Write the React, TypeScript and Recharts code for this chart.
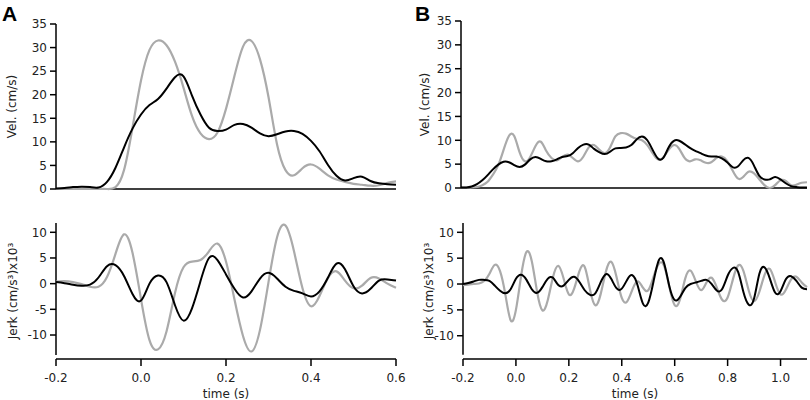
import React from "react";
import { LineChart, Line, XAxis, YAxis, ReferenceLine } from "recharts";

// time grid (s)
const timeA = [
  -0.2, -0.18, -0.16, -0.14, -0.12, -0.1, -0.08, -0.06, -0.04, -0.02, 0,
  0.02, 0.04, 0.06, 0.08, 0.1, 0.12, 0.14, 0.16, 0.18, 0.2,
  0.22, 0.24, 0.26, 0.28, 0.3, 0.32, 0.34, 0.36, 0.38, 0.4,
  0.42, 0.44, 0.46, 0.48, 0.5, 0.52, 0.54, 0.56, 0.58, 0.6,
];
const timeB = [
  -0.2, -0.18, -0.16, -0.14, -0.12, -0.1, -0.08, -0.06, -0.04, -0.02, 0,
  0.02, 0.04, 0.06, 0.08, 0.1, 0.12, 0.14, 0.16, 0.18, 0.2,
  0.22, 0.24, 0.26, 0.28, 0.3, 0.32, 0.34, 0.36, 0.38, 0.4,
  0.42, 0.44, 0.46, 0.48, 0.5, 0.52, 0.54, 0.56, 0.58, 0.6,
  0.62, 0.64, 0.66, 0.68, 0.7, 0.72, 0.74, 0.76, 0.78, 0.8,
  0.82, 0.84, 0.86, 0.88, 0.9, 0.92, 0.94, 0.96, 0.98, 1.0,
  1.02, 1.04, 1.06, 1.08, 1.1,
];

// panel A, velocity (cm/s)
const velBlackA = [
  0.1, 0.2, 0.4, 0.5, 0.4, 0.3, 1.5, 4.5, 8.8, 12.8, 15.8,
  17.8, 19.1, 21.3, 23.7, 23.9, 19.8, 15.8, 13.0, 12.3, 12.6,
  13.6, 13.8, 13.0, 11.8, 11.2, 11.6, 12.2, 12.3, 11.7, 10.2,
  8.0, 5.1, 2.8, 1.8, 2.3, 2.6, 1.7, 1.2, 1.0, 0.9,
];
const velGrayA = [
  0, 0, 0, 0, 0, 0, 0, 0.4, 4.0, 13.0, 23.0,
  29.5, 31.5, 30.5, 27.0, 21.5, 15.5, 11.8, 10.6, 12.0, 17.0,
  24.0, 30.2, 31.4, 27.5, 19.5, 9.5, 4.0, 2.9, 4.4, 5.2,
  4.3, 2.9, 2.0, 1.5, 1.1, 0.9, 0.7, 0.8, 1.3, 1.6,
];

// panel A, jerk (cm/s^3 x10^3)
const jerkBlackA = [
  0.3, 0.1, -0.2, -0.4, -0.2, 1.2, 3.4, 3.6, 1.5, -2.0, -3.3,
  0.0, 1.6, 0.3, -4.2, -7.2, -4.8, 0.5, 5.0, 4.6, 1.8,
  -1.0, -2.7, -1.5, 1.0, 2.1, 1.0, -0.6, -1.4, -1.9, -2.5,
  -1.5, 1.2, 3.9, 2.8, -0.5, -1.9, -1.0, 0.6, 0.8, 0.6,
];
const jerkGrayA = [
  0.4, 0.5, 0.3, -0.1, -0.6, -0.6, 1.3, 5.8, 9.6, 6.0, -3.0,
  -11.0, -12.8, -9.3, -1.8, 3.2, 4.3, 4.6, 6.3, 7.8, 4.3,
  -3.1, -10.2, -13.2, -9.0, 0.3, 9.0, 11.3, 6.3, -0.9, -4.4,
  -2.4, 1.1, 2.4, 0.6, -0.9, -0.4, 1.1, 1.0, 0.0, -0.8,
];

// panel B, velocity (cm/s)
const velBlackB = [
  0.1, 0.1, 0.3, 0.8, 1.6, 2.7, 3.9, 4.9, 5.5, 5.4, 4.8,
  4.4, 4.9, 6.0, 6.5, 6.1, 5.6, 5.6, 6.0, 6.5, 6.7,
  7.3, 8.4, 9.1, 9.1, 8.2, 7.5, 7.1, 7.6, 8.3, 8.4,
  8.5, 9.0, 10.2, 10.8, 10.0, 8.0, 6.2, 6.3, 8.5, 9.9,
  9.9, 9.2, 8.4, 7.8, 7.3, 6.8, 6.6, 6.6, 6.2, 5.4,
  4.4, 4.5, 5.8, 6.3, 4.8, 2.6, 1.8, 1.8, 2.3, 1.8,
  1.0, 0.4, 0.2, 0.1, 0.1,
];
const velGrayB = [
  0.1, 0.1, 0.1, 0.2, 0.6, 1.3, 2.8, 4.8, 8.0, 10.9, 10.9,
  7.5, 5.6, 6.5, 8.8, 9.7, 7.8, 6.3, 5.8, 6.5, 7.0,
  6.3, 5.6, 6.6, 8.5, 9.0, 8.0, 7.3, 8.5, 10.8, 11.5,
  11.4, 10.8, 10.3, 10.0, 9.0, 7.3, 6.0, 6.4, 8.0, 9.0,
  8.2, 6.3, 5.6, 6.0, 5.8, 5.3, 5.4, 6.3, 6.6, 5.7,
  3.7, 2.0, 2.3, 3.4, 3.1, 1.9, 0.6, 0.0, 0.6, 1.6,
  1.5, 0.6, 0.7, 1.1, 1.2,
];

// panel B, jerk (cm/s^3 x10^3)
const jerkBlackB = [
  0.0, 0.2, 0.5, 0.8, 0.8, 0.6, -0.3, -1.3, -1.8, -1.0, 1.0,
  1.8, 0.8, -1.0, -1.7, -0.6, 1.0, 1.2, -0.2, -0.3, 0.8,
  1.4, 0.4, -1.2, -2.1, -1.8, 0.3, 1.9, 1.0, -0.8, -0.9,
  0.8, 1.7, -0.3, -3.8, -3.6, 0.5, 4.6, 4.0, -0.5, -3.1,
  -2.5, -0.8, 0.0, 0.3, 0.6, 0.8, 0.0, -1.3, -0.9, 1.6,
  3.1, 2.3, -1.6, -4.0, -2.8, 2.0, 3.2, 1.0, -1.7, -1.4,
  0.9, 1.5, 0.6, -0.7, -1.0,
];
const jerkGrayB = [
  -0.2, -0.1, 0.0, 0.1, 0.6, 2.0, 3.7, 2.5, -2.0, -7.0, -5.0,
  1.7, 6.2, 4.4, -1.5, -5.1, -3.2, 1.3, 3.5, 1.1, -2.0,
  -0.9, 2.5, 3.3, -1.1, -4.1, -2.0, 2.4, 4.3, 1.4, -2.7,
  -3.4, -1.1, 0.5, -0.7, -1.2, 1.4, 3.9, 3.5, -0.6, -4.1,
  -3.0, 1.1, 2.6, 0.5, -1.2, 0.3, 1.2, -0.8, -3.1, -2.6,
  0.9, 3.6, 2.5, -1.3, -3.3, -1.5, 1.8, 2.9, 0.3, -2.0,
  -1.1, 0.9, 1.4, 0.3, -0.6,
];

const ticksA = [-0.2, 0, 0.2, 0.4, 0.6];
const ticksB = [-0.2, 0, 0.2, 0.4, 0.6, 0.8, 1.0];
const velTicks = [0, 5, 10, 15, 20, 25, 30, 35];
const jerkTicks = [-10, -5, 0, 5, 10];

const TEXT = "#222";
const tickStyle = { fontSize: 12, fill: TEXT };

type Row = { t: number; black: number; gray: number };

const toRows = (t: number[], black: number[], gray: number[]): Row[] =>
  t.map((x, i) => ({ t: x, black: black[i], gray: gray[i] }));

type VelProps = {
  rows: Row[];
  xDomain: [number, number];
  width: number;
  right: number;
  yWidth: number;
  top: number;
  bottom: number;
  labelOffset: number;
};

const VelChart = ({ rows, xDomain, width, right, yWidth, top, bottom, labelOffset }: VelProps) => (
  <LineChart width={width} height={200} data={rows} margin={{ top, right, bottom, left: 0 }}>
    <XAxis dataKey="t" type="number" domain={xDomain} hide />
    <YAxis
      type="number"
      domain={[0, 35]}
      ticks={velTicks}
      interval={0}
      width={yWidth}
      stroke="#000"
      strokeWidth={1.5}
      tickSize={6}
      tickMargin={3}
      tick={tickStyle}
      label={{ value: "Vel. (cm/s)", angle: -90, position: "insideLeft", offset: labelOffset, fill: TEXT, fontSize: 12, style: { textAnchor: "middle" } }}
    />
    <ReferenceLine y={0} stroke="#000" strokeWidth={1.5} />
    <Line dataKey="gray" type="natural" stroke="#aaaaaa" strokeWidth={2.2} dot={false} isAnimationActive={false} />
    <Line dataKey="black" type="natural" stroke="#000" strokeWidth={2} dot={false} isAnimationActive={false} />
  </LineChart>
);

type JerkProps = {
  rows: Row[];
  xDomain: [number, number];
  xTicks: number[];
  yDomain: [number, number];
  axisBottom: number;
  width: number;
  right: number;
  yWidth: number;
  labelOffset: number;
};

const JerkChart = ({ rows, xDomain, xTicks, yDomain, axisBottom, width, right, yWidth, labelOffset }: JerkProps) => (
  <LineChart width={width} height={185} data={rows} margin={{ top: 8, right, bottom: 0, left: 0 }}>
    <XAxis
      dataKey="t"
      type="number"
      domain={xDomain}
      ticks={xTicks}
      interval={0}
      tickFormatter={(v: number) => v.toFixed(1)}
      stroke="#000"
      strokeWidth={1.5}
      tickSize={7}
      tickMargin={7}
      tick={tickStyle}
      height={41}
      label={{ value: "time (s)", position: "insideBottom", offset: 2, fill: TEXT, fontSize: 12 }}
    />
    <YAxis
      type="number"
      domain={yDomain}
      ticks={jerkTicks}
      interval={0}
      width={yWidth}
      axisLine={false}
      stroke="#000"
      strokeWidth={1.5}
      tickSize={6}
      tickMargin={3}
      tick={tickStyle}
      label={{ value: "Jerk (cm/s³)x10³", angle: -90, position: "insideLeft", offset: labelOffset, fill: TEXT, fontSize: 12, style: { textAnchor: "middle" } }}
    />
    <ReferenceLine segment={[{ x: xDomain[0], y: axisBottom }, { x: xDomain[0], y: yDomain[1] }]} stroke="#000" strokeWidth={1.5} />
    <Line dataKey="gray" type="natural" stroke="#aaaaaa" strokeWidth={2.2} dot={false} isAnimationActive={false} />
    <Line dataKey="black" type="natural" stroke="#000" strokeWidth={2} dot={false} isAnimationActive={false} />
  </LineChart>
);

const letterStyle: React.CSSProperties = {
  position: "absolute",
  top: 3,
  fontFamily: "'Liberation Sans', Arial, sans-serif",
  fontWeight: "bold",
  fontSize: 21,
  lineHeight: "21px",
  color: "#000",
};

export default function App() {
  const velA = toRows(timeA, velBlackA, velGrayA);
  const jerkA = toRows(timeA, jerkBlackA, jerkGrayA);
  const velB = toRows(timeB, velBlackB, velGrayB);
  const jerkB = toRows(timeB, jerkBlackB, jerkGrayB);

  return (
    <div
      style={{
        position: "absolute",
        left: 0,
        top: 0,
        width: 810,
        height: 400,
        background: "#fff",
        fontFamily: "'DejaVu Sans', sans-serif",
        overflow: "hidden",
      }}
    >
      <div style={{ position: "absolute", left: 0, top: 0 }}>
        <VelChart rows={velA} xDomain={[-0.2, 0.6]} width={412} right={16} yWidth={56} top={24} bottom={11} labelOffset={12} />
      </div>
      <div style={{ position: "absolute", left: 0, top: 215 }}>
        <JerkChart rows={jerkA} xDomain={[-0.2, 0.6]} xTicks={ticksA} yDomain={[-14.67, 11.81]} axisBottom={-13.9} width={412} right={16} yWidth={56} labelOffset={13} />
      </div>
      <div style={{ position: "absolute", left: 405, top: 0 }}>
        <VelChart rows={velB} xDomain={[-0.2, 1.1]} width={405} right={3} yWidth={56} top={21} bottom={12} labelOffset={20} />
      </div>
      <div style={{ position: "absolute", left: 405, top: 215 }}>
        <JerkChart rows={jerkB} xDomain={[-0.2, 1.1]} xTicks={ticksB} yDomain={[-14.5, 11.8]} axisBottom={-13.7} width={405} right={3} yWidth={58} labelOffset={24} />
      </div>

      <div style={{ ...letterStyle, left: 2 }}>A</div>
      <div style={{ ...letterStyle, left: 415 }}>B</div>
    </div>
  );
}
